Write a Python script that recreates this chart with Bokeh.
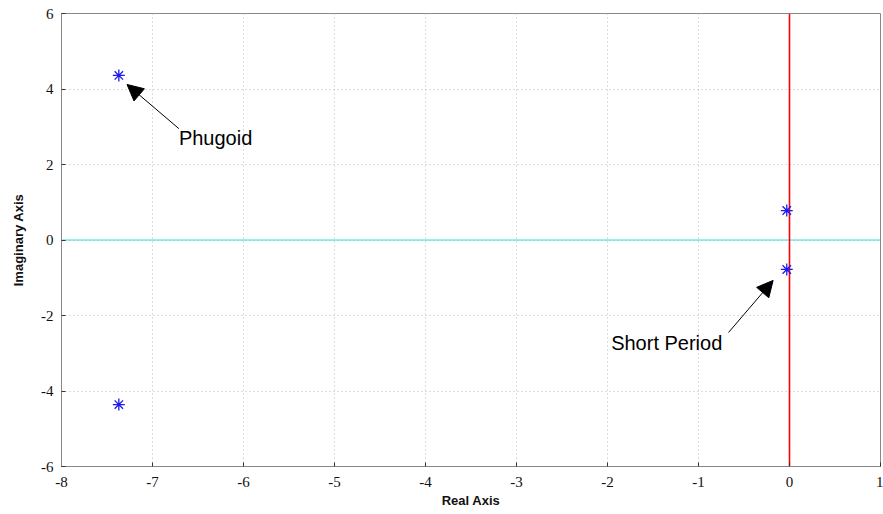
from bokeh.plotting import figure
from bokeh.models import Arrow, NormalHead, Label, FixedTicker, ColumnDataSource, CustomJSTickFormatter
from bokeh.embed import file_html
from bokeh.resources import INLINE

# Pole data
pole_real = [-7.37, -7.37, -0.03, -0.03]
pole_imag = [4.36, -4.36, 0.78, -0.78]

x_ticks = [-8, -7, -6, -5, -4, -3, -2, -1, 0, 1]
y_ticks = [-6, -4, -2, 0, 2, 4, 6]

# Annotations
ann_text = ["Phugoid", "Short Period"]
ann_tx = [-6.71, -1.96]
ann_ty = [2.69, -2.74]
arr_x0 = [-6.71, -0.67]
arr_y0 = [2.95, -2.45]
arr_x1 = [-7.28, -0.18]
arr_y1 = [4.12, -1.07]

p = figure(width=883, height=514, x_range=(-8, 1), y_range=(-6, 6),
           output_backend="svg", toolbar_location=None,
           min_border_left=61, min_border_top=13, min_border_right=3, min_border_bottom=48)

p.background_fill_color = "white"
p.border_fill_color = "white"
p.outline_line_color = "#888888"
p.outline_line_width = 1

fmt = CustomJSTickFormatter(code="return String(tick);")
p.xaxis.ticker = FixedTicker(ticks=x_ticks)
p.yaxis.ticker = FixedTicker(ticks=y_ticks)
for ax in (p.xaxis, p.yaxis):
    ax.formatter = fmt
    ax.axis_line_color = "#888888"
    ax.major_tick_in = 4
    ax.major_tick_out = 0
    ax.minor_tick_line_color = None
    ax.major_tick_line_color = "#333333"
    ax.major_label_text_font = "Liberation Serif"
    ax.major_label_text_font_size = "15px"
    ax.major_label_text_color = "#111111"
    ax.axis_label_text_font = "Liberation Sans"
    ax.axis_label_text_font_size = "13px"
    ax.axis_label_text_font_style = "bold"
    ax.axis_label_text_color = "#111111"

p.xaxis.axis_label = "Real Axis"
p.yaxis.axis_label = "Imaginary Axis"
p.xaxis.major_label_standoff = 10
p.xaxis.axis_label_standoff = 3
p.yaxis.major_label_standoff = 8
p.yaxis.axis_label_standoff = 12

p.xgrid.grid_line_color = "#b8b8b8"
p.ygrid.grid_line_color = "#b8b8b8"
p.xgrid.grid_line_dash = "1 3"
p.ygrid.grid_line_dash = "1 3"
p.xgrid.ticker = FixedTicker(ticks=x_ticks)
p.ygrid.ticker = FixedTicker(ticks=y_ticks)

# Real and imaginary axis lines
p.segment(x0=[-8], y0=[0], x1=[1], y1=[0], line_color="#33dddd", line_width=1)
p.segment(x0=[0], y0=[-6], x1=[0], y1=[6], line_color="red", line_width=1.6)

src = ColumnDataSource(dict(x=pole_real, y=pole_imag))
p.scatter("x", "y", source=src, marker="asterisk", size=12, line_color="#1a1aee", line_width=1.3)

for i in range(len(ann_text)):
    p.add_layout(Arrow(end=NormalHead(size=16, fill_color="black", line_color="black"),
                       x_start=arr_x0[i], y_start=arr_y0[i], x_end=arr_x1[i], y_end=arr_y1[i],
                       line_color="black", line_width=1))
    p.add_layout(Label(x=ann_tx[i], y=ann_ty[i], text=ann_text[i], text_font="Liberation Sans",
                       text_font_size="20px", text_baseline="middle", text_align="left",
                       text_color="black"))

open("out.html", "w").write(file_html(p, INLINE))
